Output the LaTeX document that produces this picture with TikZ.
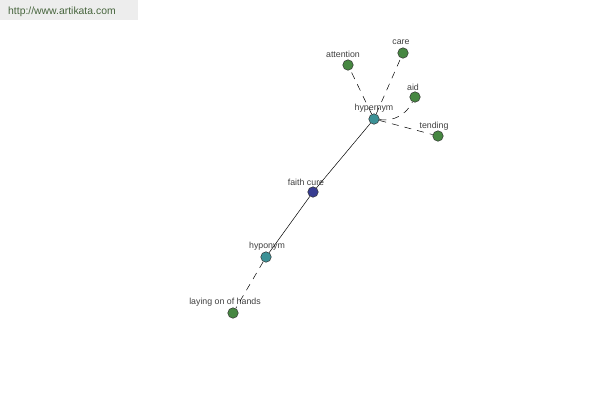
\documentclass[tikz,border=0pt]{standalone}
\usepackage{fontspec}
\setmainfont{Liberation Sans}
\definecolor{leafc}{RGB}{70,135,65}
\definecolor{relc}{RGB}{60,145,150}
\definecolor{corec}{RGB}{55,60,145}
\definecolor{urlc}{RGB}{70,100,60}
\begin{document}
\begin{tikzpicture}[x=1pt,y=-1pt,
  vtx/.style={circle,draw=black!80,line width=0.5pt,minimum size=10.5pt,inner sep=0pt},
  leaf/.style={vtx,fill=leafc},
  rel/.style={vtx,fill=relc},
  core/.style={vtx,fill=corec},
  lbl/.style={font=\fontsize{8.8}{10}\selectfont,text=black!75,inner sep=0pt},
  dsh/.style={draw=black,line width=0.5pt,dash pattern=on 7pt off 6pt},
  sol/.style={draw=black,line width=0.5pt}]
\useasboundingbox (0,0) rectangle (600,400);
\fill[black!7] (0,0) rectangle (138,20);
\node[anchor=west,inner sep=0pt,font=\fontsize{10.4}{12}\selectfont,text=urlc] (url) at (8,12) {http://www.artikata.com};
% nodes
\node[rel]  (hyper) at (374,119) {};
\node[core] (faith) at (313,192) {};
\node[rel]  (hypo)  at (266,257) {};
\node[leaf] (lay)   at (233,313) {};
\node[leaf] (att)   at (348,65) {};
\node[leaf] (care)  at (403,53) {};
\node[leaf] (aid)   at (415,97) {};
\node[leaf] (tend)  at (438,136) {};
% labels
\node[lbl] (lhyper) at (374,108) {hypernym};
\node[lbl] (lfaith) at (306,182) {faith cure};
\node[lbl] (lhypo)  at (267,246) {hyponym};
\node[lbl] (llay)   at (225,302) {laying on of hands};
\node[lbl] (latt)   at (343,54) {attention};
\node[lbl] (lcare)  at (401,42) {care};
\node[lbl] (laid)   at (413,87) {aid};
\node[lbl] (ltend)  at (434,126) {tending};
% edges
\draw[sol] (faith) -- (hyper);
\draw[sol] (faith) -- (hypo);
\draw[dsh] (hypo) -- (lay);
\draw[dsh] (hyper) -- (att);
\draw[dsh] (hyper) -- (care);
\draw[dsh] (hyper) to[bend right=35] (aid);
\draw[dsh] (hyper) -- (tend);
\end{tikzpicture}
\end{document}
